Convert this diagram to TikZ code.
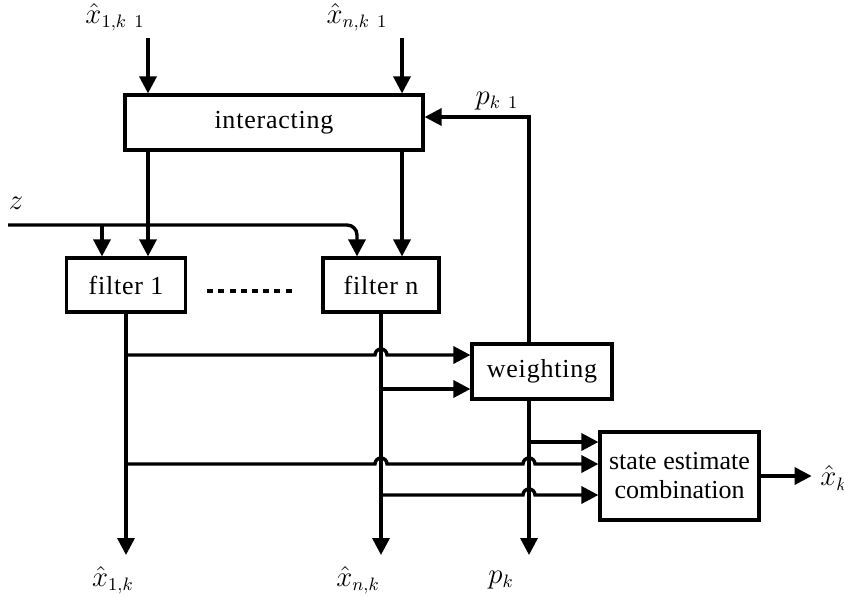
\documentclass[tikz,border=0pt]{standalone}
\usepackage{amsmath,amssymb}
\usepackage{fontspec}
\setmainfont{Liberation Serif}
\usetikzlibrary{positioning,arrows.meta,calc}

\begin{document}
\begin{tikzpicture}[x=0.5pt,y=-0.5pt,>={Triangle[length=8.5pt,width=8.5pt]},line width=1.7pt,
  block/.style={draw,line width=1.6pt,align=center,inner sep=0pt,font=\fontsize{13}{14.5}\selectfont\addfontfeature{LetterSpace=3}},
  lbl/.style={inner sep=0pt,font=\fontsize{13.5}{15}\selectfont},
  dotline/.style={dash pattern=on 3pt off 2.6pt,line width=2pt}]
\useasboundingbox (0,0) rectangle (844,596);
% blocks
\node (inter) [block,minimum width=149pt,minimum height=27.5pt] at (274,122.5) {interacting};
\node (f1) [block,minimum width=59.5pt,minimum height=27pt] at (126,285) {filter 1};
\node (fn) [block,minimum width=58pt,minimum height=27pt] at (381,285) {filter n};
\node (wt) [block,minimum width=70pt,minimum height=27.5pt] at (542,371.5) {weighting};
\node (st) [block,minimum width=79.5pt,minimum height=44pt,font=\fontsize{13}{14.5}\selectfont] at (679.5,476) {state estimate\\combination};
% labels
\node (lin1) [lbl] at (115,17) {$\hat{x}_{1,k\;\,1}$};
\node (linn) [lbl] at (357,17) {$\hat{x}_{n,k\;\,1}$};
\node (lp1) [lbl] at (497,101) {$p_{k\;\,1}$};
\node (lz) [lbl] at (16,203) {$z$};
\node (lo1) [lbl] at (113,580) {$\hat{x}_{1,k}$};
\node (lon) [lbl] at (358,580) {$\hat{x}_{n,k}$};
\node (lpk) [lbl] at (501,580) {$p_k$};
\node (lx) [lbl] at (834,478) {$\hat{x}_k$};
% helper points
\coordinate (in1) at (148,38);
\coordinate (inn) at (402,38);
\coordinate (zs) at (8,225);
\coordinate (zb1) at (102,225);
\coordinate (zbn) at (357,225);
\coordinate (pc) at (529,117);
\coordinate (bot) at (0,555);
\coordinate (w1) at (126,355);
\coordinate (w2) at (381,389);
\coordinate (s1) at (529,442);
\coordinate (s2) at (126,464);
\coordinate (s3) at (381,495);
% inputs
\draw[->] (in1) -- (in1 |- inter.north);
\draw[->] (inn) -- (inn |- inter.north);
\draw[->] (in1 |- inter.south) -- (in1 |- f1.north);
\draw[->] (inn |- inter.south) -- (inn |- fn.north);
\draw[->,rounded corners=5pt] (zs) -| (zbn |- fn.north);
\draw[->] (zb1) -- (zb1 |- f1.north);
\draw[dotline] ($(f1.east)+(20,6)$) -- ($(fn.west)+(-27,6)$);
% outputs
\draw[->] (f1.south) -- (f1.south |- bot);
\draw[->] (fn.south) -- (fn.south |- bot);
\draw[->] (pc |- wt.north) -- (pc) -- (pc -| inter.east);
\draw[->] (pc |- wt.south) -- (pc |- bot);
\draw[->] (w1) -- ($(fn.south |- w1)+(-6,0)$) arc[start angle=180,end angle=0,radius=3pt] -- (wt.west |- w1);
\draw[->] (w2) -- (wt.west |- w2);
\draw[->] (s1) -- (st.west |- s1);
\draw[->] (s2) -- ($(fn.south |- s2)+(-6,0)$) arc[start angle=180,end angle=0,radius=3pt]
  -- ($(pc |- s2)+(-6,0)$) arc[start angle=180,end angle=0,radius=3pt] -- (st.west |- s2);
\draw[->] (s3) -- ($(pc |- s3)+(-6,0)$) arc[start angle=180,end angle=0,radius=3pt] -- (st.west |- s3);
\draw[->] (st.east) -- ++(51,0);
\end{tikzpicture}
\end{document}
